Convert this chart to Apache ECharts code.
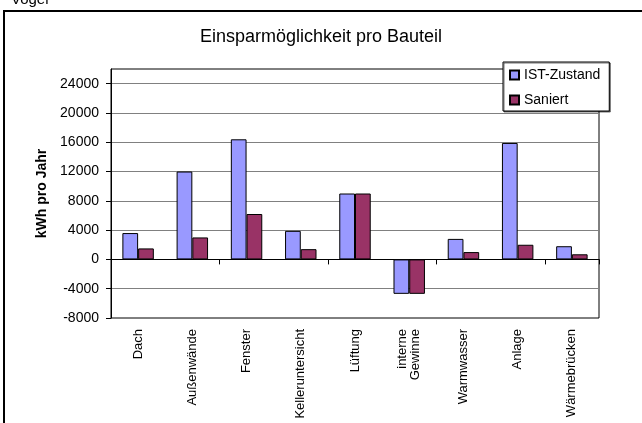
<!DOCTYPE html>
<html>
<head>
<meta charset="utf-8">
<script src="https://cdn.jsdelivr.net/npm/echarts@6/dist/echarts.min.js"></script>
<style>
  html, body { margin: 0; padding: 0; background: #fff; }
  #chart { width: 642px; height: 423px; }
</style>
</head>
<body>
<div id="chart"></div>
<script>
// Kategorien (Bauteile)
const categories = ['Dach', 'Außenwände', 'Fenster', 'Kelleruntersicht', 'Lüftung', 'interne\nGewinne', 'Warmwasser', 'Anlage', 'Wärmebrücken']
// kWh pro Jahr
const istZustand = [3600, 12000, 16400, 3900, 9000, -4700, 2800, 15900, 1800]
const saniert = [1500, 3000, 6200, 1400, 9000, -4700, 1000, 2000, 700]
const yTicks = [-8000, -4000, 0, 4000, 8000, 12000, 16000, 20000, 24000]

const chart = echarts.init(document.getElementById('chart'))

chart.setOption({
  animation: false,
  textStyle: { fontFamily: 'Liberation Sans' },
  graphic: [
    {
      type: 'rect',
      silent: true,
      shape: { x: 4, y: 11, width: 700, height: 500 },
      style: { fill: 'none', stroke: '#000', lineWidth: 2 }
    },
    {
      type: 'text',
      silent: true,
      x: 11,
      y: 7,
      style: { text: 'Vogel', font: '15px "Liberation Sans"', fill: '#000', verticalAlign: 'bottom' }
    }
  ],
  title: {
    text: 'Einsparmöglichkeit pro Bauteil',
    left: 'center',
    top: 28,
    padding: 0,
    textStyle: { fontSize: 18, fontWeight: 'normal', color: '#000', fontFamily: 'Liberation Sans' }
  },
  legend: {
    orient: 'vertical',
    left: 503,
    top: 62,
    padding: [5, 9, 3, 6],
    itemWidth: 9,
    itemHeight: 9,
    itemGap: 9,
    backgroundColor: '#fff',
    borderColor: '#000',
    borderWidth: 1,
    shadowColor: 'rgba(0,0,0,0.55)',
    shadowOffsetX: 1,
    shadowOffsetY: 1,
    textStyle: { fontSize: 14, color: '#000', lineHeight: 16 },
    data: [
      { name: 'IST-Zustand', icon: 'rect' },
      { name: 'Saniert', icon: 'rect' }
    ]
  },
  grid: {
    left: 111,
    right: 43,
    top: 69,
    bottom: 105,
    show: true,
    backgroundColor: '#fff',
    borderColor: '#000',
    borderWidth: 1
  },
  xAxis: [
    {
      type: 'category',
      data: categories,
      axisLine: { onZero: true, lineStyle: { color: '#000', width: 1 } },
      axisTick: { show: true, length: 5, lineStyle: { color: '#000' } },
      axisLabel: { show: false },
      splitLine: { show: false }
    },
    {
      type: 'category',
      data: categories,
      position: 'bottom',
      axisLine: { show: false, onZero: false },
      axisTick: { show: false },
      axisLabel: { interval: 0, rotate: 90, margin: 11, fontSize: 13, color: '#000' },
      splitLine: { show: false }
    }
  ],
  yAxis: {
    type: 'value',
    min: -8000,
    max: 26000,
    interval: 4000,
    name: 'kWh pro Jahr',
    nameLocation: 'middle',
    nameGap: 61,
    nameTextStyle: { fontSize: 14, fontWeight: 'bold', color: '#000' },
    axisLine: { show: true, lineStyle: { color: '#000' } },
    axisTick: { show: true, length: 5, lineStyle: { color: '#000' }, customValues: yTicks },
    axisLabel: {
      fontSize: 14,
      color: '#000',
      margin: 12,
      customValues: yTicks,
      formatter: function(v) { return String(v) }
    },
    splitLine: { show: true, showMinLine: false, showMaxLine: true, lineStyle: { color: '#808080', width: 1 } }
  },
  series: [
    {
      name: 'IST-Zustand',
      type: 'bar',
      data: istZustand,
      barGap: '0%',
      barCategoryGap: '42%',
      itemStyle: { color: '#9999FF', borderColor: '#000', borderWidth: 1 }
    },
    {
      name: 'Saniert',
      type: 'bar',
      data: saniert,
      itemStyle: { color: '#993366', borderColor: '#000', borderWidth: 1 }
    }
  ]
})
</script>
</body>
</html>
